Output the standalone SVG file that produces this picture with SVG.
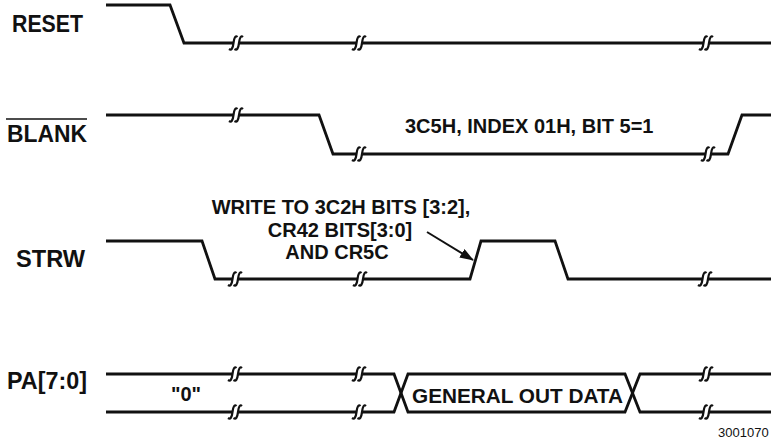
<svg xmlns="http://www.w3.org/2000/svg" xmlns:xlink="http://www.w3.org/1999/xlink" width="771" height="443" viewBox="0 0 771 443">
<style>
.sig{fill:none;stroke:#111;stroke-width:2.8;stroke-linejoin:miter}
.brk path{fill:none;stroke:#111;stroke-width:2.2}
.lbl{font-family:"Liberation Sans",Arial,sans-serif;font-weight:bold;font-size:24px;fill:#111}
.ann{font-family:"Liberation Sans",Arial,sans-serif;font-weight:bold;font-size:20px;fill:#111}
.ref{font-family:"Liberation Sans",Arial,sans-serif;font-size:13px;fill:#111}
</style>
<defs>
<g id="brk" class="brk">
<rect x="-3.5" y="-3" width="5.5" height="6" fill="#fff"/>
<path d="M -8,6 Q -4.5,8.5 -3.5,0 Q -2.5,-8.5 0.5,-6"/>
<path d="M -2.5,6 Q 1,8.5 2,0 Q 3,-8.5 6,-6"/>
</g>
<marker id="ah" markerWidth="14" markerHeight="10" refX="13" refY="5" orient="auto" markerUnits="userSpaceOnUse">
<path d="M0,0 L14,5 L0,10 Z" fill="#111"/>
</marker>
</defs>

<g id="reset">
<text class="lbl" x="12" y="32" textLength="71" lengthAdjust="spacingAndGlyphs">RESET</text>
<polyline class="sig" points="106,5 170,5 184,43 771,43"/>
<use xlink:href="#brk" x="237" y="43"/>
<use xlink:href="#brk" x="360" y="43"/>
<use xlink:href="#brk" x="707" y="43"/>
</g>

<g id="blank">
<text class="lbl" x="7" y="142" textLength="80" lengthAdjust="spacingAndGlyphs">BLANK</text>
<line x1="6" y1="119" x2="87" y2="119" stroke="#111" stroke-width="1.5"/>
<polyline class="sig" points="106,115 319,115 333,154 728,154 742,115 771,115"/>
<use xlink:href="#brk" x="237" y="115"/>
<use xlink:href="#brk" x="360" y="154"/>
<use xlink:href="#brk" x="709" y="154"/>
<text class="ann" x="405" y="133">3C5H, INDEX 01H, BIT 5=1</text>
</g>

<g id="strw">
<text class="lbl" x="16" y="267" textLength="69" lengthAdjust="spacingAndGlyphs">STRW</text>
<polyline class="sig" points="106,241 202,241 215,279 470,279 481,241 555,241 568,279 771,279"/>
<use xlink:href="#brk" x="236" y="279"/>
<use xlink:href="#brk" x="361" y="279"/>
<use xlink:href="#brk" x="706" y="279"/>
</g>

<g id="note">
<text class="ann" text-anchor="middle" x="341" y="214">WRITE TO 3C2H BITS [3:2],</text>
<text class="ann" text-anchor="middle" x="340" y="237">CR42 BITS[3:0]</text>
<text class="ann" text-anchor="middle" x="337" y="259">AND CR5C</text>
</g>

<g id="pa">
<text class="lbl" x="7" y="389" textLength="80" lengthAdjust="spacingAndGlyphs">PA[7:0]</text>
<polyline class="sig" points="106,374 394,374 408,412 625,412 640,374 771,374"/>
<polyline class="sig" points="106,412 394,412 408,374 625,374 640,412 771,412"/>
<use xlink:href="#brk" x="236" y="374"/>
<use xlink:href="#brk" x="236" y="412"/>
<use xlink:href="#brk" x="360" y="374"/>
<use xlink:href="#brk" x="360" y="412"/>
<use xlink:href="#brk" x="707" y="374"/>
<use xlink:href="#brk" x="707" y="412"/>
<text class="ann" x="171" y="401">"0"</text>
<text class="ann" x="412" y="403" textLength="211" lengthAdjust="spacingAndGlyphs">GENERAL OUT DATA</text>
</g>

<g id="connectors">
<line x1="427" y1="232" x2="473" y2="260" stroke="#111" stroke-width="2" marker-end="url(#ah)"/>
</g>

<text class="ref" x="718" y="437">3001070</text>
</svg>
